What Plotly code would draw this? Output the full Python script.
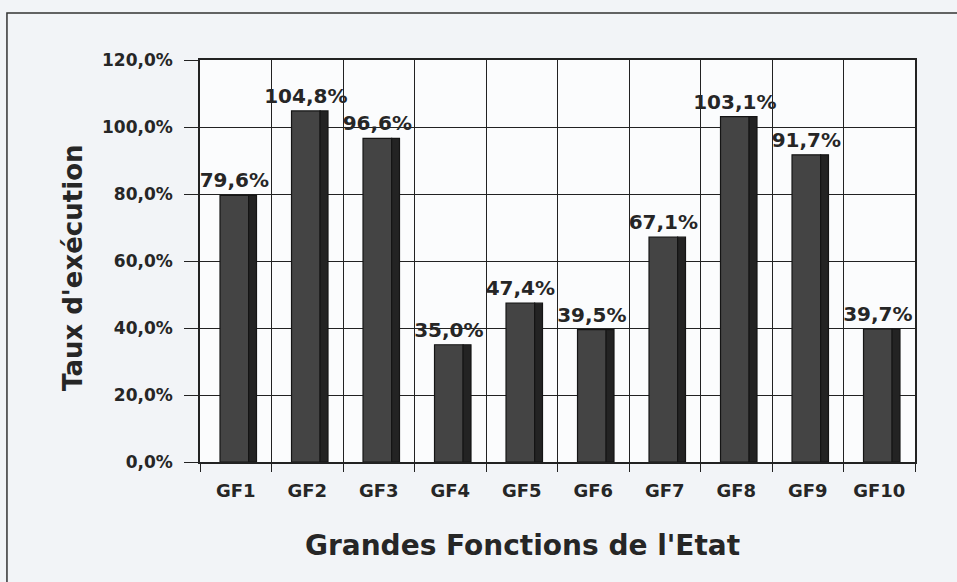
import plotly.graph_objects as go

categories = ["GF1", "GF2", "GF3", "GF4", "GF5", "GF6", "GF7", "GF8", "GF9", "GF10"]
taux = [79.6, 104.8, 96.6, 35.0, 47.4, 39.5, 67.1, 103.1, 91.7, 39.7]
ytick_vals = [0, 20, 40, 60, 80, 100, 120]
ytick_text = ["0,0%", "20,0%", "40,0%", "60,0%", "80,0%", "100,0%", "120,0%"]

labels = [f"{v:.1f}%".replace(".", ",") for v in taux]
xpos = list(range(len(categories)))

FONT = "DejaVu Sans"
TXT = "#262626"

fig = go.Figure()
# front face of the bars
fig.add_trace(go.Bar(
    x=xpos, y=taux, width=0.4, offset=-0.22,
    marker=dict(color="#444444", line=dict(color="#151515", width=1.2)),
    text=labels, textposition="outside", cliponaxis=False,
    constraintext="none",
    textfont=dict(family=FONT, size=20, color=TXT),
    texttemplate="<b>%{text}</b>",
    hoverinfo="skip",
))
# darker side face (pseudo depth)
fig.add_trace(go.Bar(
    x=xpos, y=taux, width=0.11, offset=0.18,
    marker=dict(color="#232323", line=dict(color="#151515", width=1.2)),
    hoverinfo="skip",
))

fig.update_layout(
    width=957, height=582,
    margin=dict(l=200, r=42, t=60, b=120),
    paper_bgcolor="#f2f4f7",
    plot_bgcolor="#fbfcfd",
    showlegend=False,
    barmode="overlay",
    font=dict(family=FONT, color=TXT),
    xaxis=dict(
        range=[-0.5, 9.5],
        tickvals=xpos,
        ticktext=[f"<b>{c}</b>" for c in categories],
        tickfont=dict(family=FONT, size=18, color=TXT),
        ticklabelstandoff=12,
        showgrid=False,
        showline=True, linecolor="#222", linewidth=1.5, mirror=True,
        ticks="", ticklen=0,
        minor=dict(tickvals=[i - 0.5 for i in range(len(categories) + 1)],
                   showgrid=True, gridcolor="#222", gridwidth=1.2,
                   ticks="outside", ticklen=8, tickcolor="#222"),
        zeroline=False,
    ),
    yaxis=dict(
        range=[0, 120],
        tickvals=ytick_vals,
        ticktext=[f"<b>{t}</b>" for t in ytick_text],
        tickfont=dict(family=FONT, size=17, color=TXT),
        ticklabelstandoff=8,
        showgrid=True, gridcolor="#222", gridwidth=1.2,
        showline=True, linecolor="#222", linewidth=1.5, mirror=True,
        ticks="outside", ticklen=14, tickcolor="#222",
        zeroline=False,
    ),
    annotations=[
        dict(text="<b>Grandes Fonctions de l'Etat</b>", xref="paper", yref="paper",
             x=(522 - 200) / 715, y=-(545 - 462) / 402, xanchor="center", yanchor="middle",
             showarrow=False, font=dict(family=FONT, size=28, color=TXT)),
        dict(text="<b>Taux d'exécution</b>", xref="paper", yref="paper",
             x=(73 - 200) / 715, y=1 - (268 - 60) / 402, xanchor="center", yanchor="middle",
             textangle=-90, showarrow=False, font=dict(family=FONT, size=26, color=TXT)),
    ],
    shapes=[dict(type="rect", xref="paper", yref="paper",
                 x0=-0.27, x1=1.2, y0=-0.4, y1=1.117,
                 line=dict(color="#333", width=1.5), layer="below")],
)

fig.write_html("out.html", config={"displayModeBar": False},
               post_script="document.body.style.margin='0';document.body.style.padding='0';")
